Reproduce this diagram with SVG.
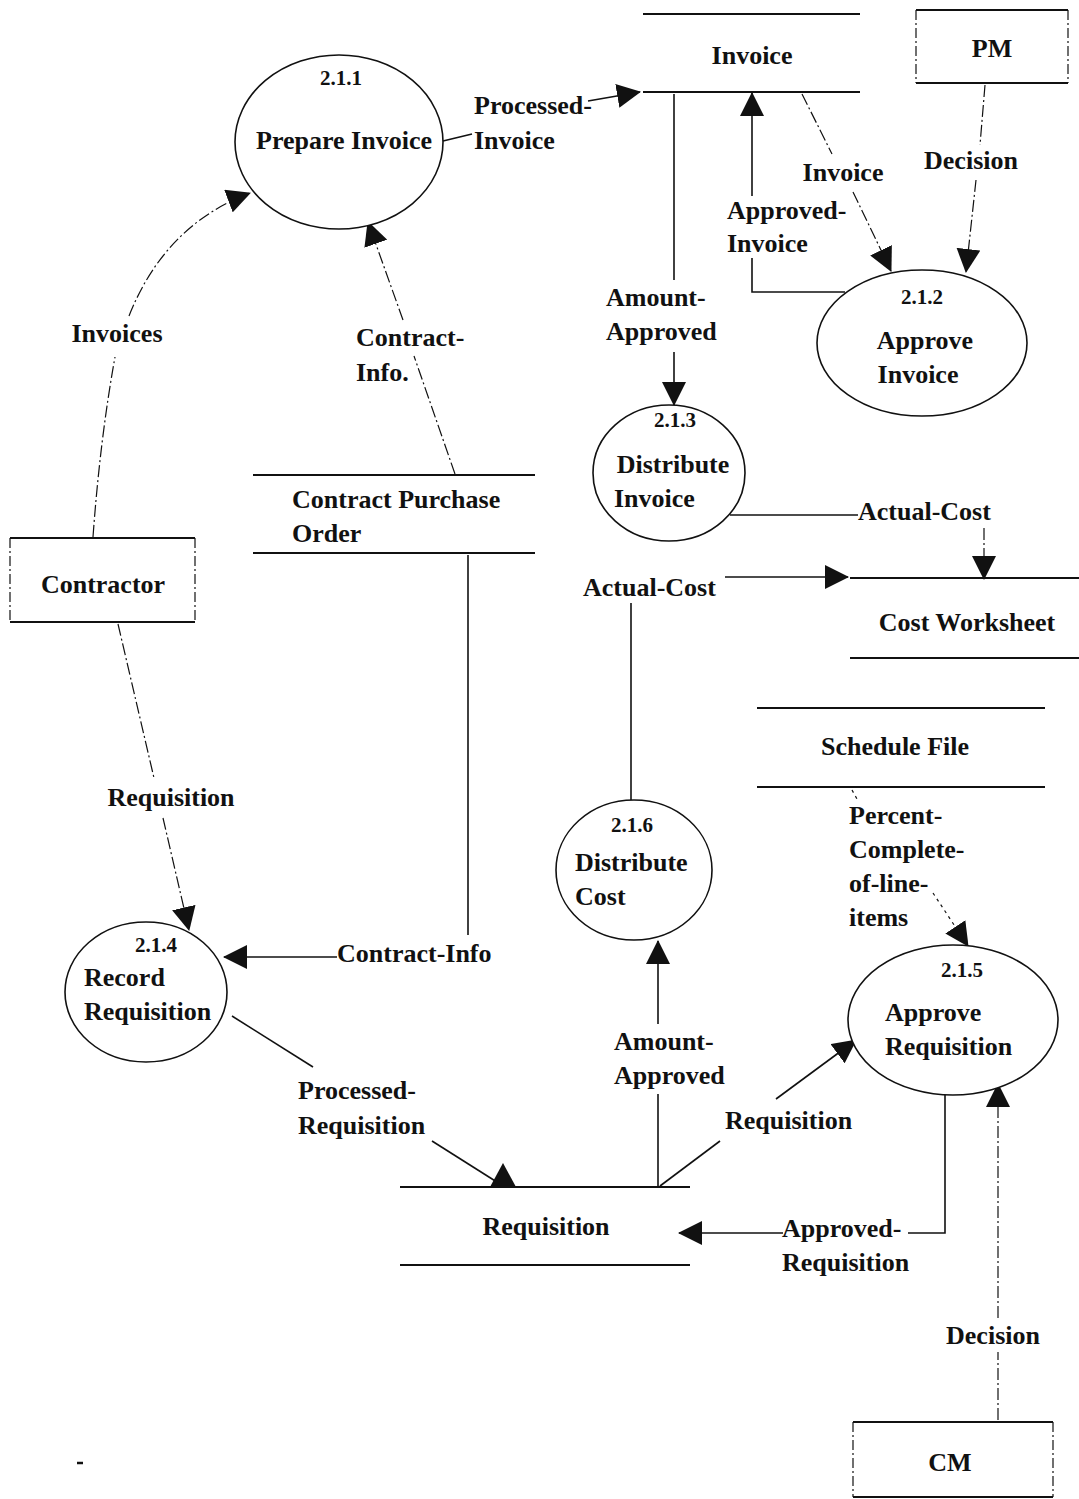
<svg xmlns="http://www.w3.org/2000/svg" width="1079" height="1499" viewBox="0 0 1079 1499">
  <style>
    text { font-family: "Liberation Serif", "DejaVu Serif", serif; font-weight: bold; font-size: 26px; fill: #111; }
    .num { font-size: 21px; }
    .mid { text-anchor: middle; }
    .proc { fill: #fff; stroke: #111; stroke-width: 1.6; }
    .store { stroke: #111; stroke-width: 2; }
    .ext-h { stroke: #111; stroke-width: 2; }
    .ext-v { stroke: #111; stroke-width: 1.2; stroke-dasharray: 10 3 2 3; }
    .flow { fill: none; stroke: #111; stroke-width: 1.6; marker-end: url(#arrow); }
    .flow-d { fill: none; stroke: #111; stroke-width: 1.2; stroke-dasharray: 12 3 2 3; marker-end: url(#arrow); }
    .flow-p { fill: none; stroke: #111; stroke-width: 1.2; stroke-dasharray: 3 4; marker-end: url(#arrow); }
    .plain { fill: none; stroke: #111; stroke-width: 1.6; }
    .plain-d { fill: none; stroke: #111; stroke-width: 1.2; stroke-dasharray: 12 3 2 3; }
    .plain-p { fill: none; stroke: #111; stroke-width: 1.2; stroke-dasharray: 3 4; }
  </style>
  <defs>
    <marker id="arrow" markerUnits="userSpaceOnUse" viewBox="0 0 24 24" markerWidth="24" markerHeight="24" refX="23" refY="12" orient="auto">
      <path d="M0,0 L24,12 L0,24 z" fill="#111"/>
    </marker>
  </defs>
  <rect width="1079" height="1499" fill="#fff"/>

  <!-- data flows; each line is broken where its label sits -->
  <g id="connectors">
    <!-- Invoices: Contractor -> 2.1.1 -->
    <path class="plain-d" d="M 93 537 Q 100 440 115 357"/>
    <path class="flow-d" d="M 129 316 Q 165 225 250 193"/>
    <text x="117" y="342" class="mid">Invoices</text>

    <!-- Contract-Info.: Contract Purchase Order -> 2.1.1 -->
    <path class="plain-d" d="M 455 474 L 414 356"/>
    <path class="flow-d" d="M 403 320 L 368 222"/>
    <text x="356" y="346">Contract-</text>
    <text x="356" y="381">Info.</text>

    <!-- Processed-Invoice: 2.1.1 -> Invoice store -->
    <path class="plain" d="M 443 141 L 472 134"/>
    <path class="flow" d="M 588 101 L 640 92"/>
    <text x="474" y="114">Processed-</text>
    <text x="474" y="149">Invoice</text>

    <!-- Invoice: Invoice store -> 2.1.2 -->
    <path class="plain-d" d="M 802 94 L 832 154"/>
    <path class="flow-d" d="M 853 192 L 891 271"/>
    <text x="843" y="181" class="mid">Invoice</text>

    <!-- Approved-Invoice: 2.1.2 -> Invoice store -->
    <path class="plain" d="M 845 292 L 752 292 L 752 258"/>
    <path class="flow" d="M 752 196 L 752 93"/>
    <text x="727" y="219">Approved-</text>
    <text x="727" y="252">Invoice</text>

    <!-- Decision: PM -> 2.1.2 -->
    <path class="plain-d" d="M 985 85 L 980 145"/>
    <path class="flow-d" d="M 976 180 L 966 272"/>
    <text x="971" y="169" class="mid">Decision</text>

    <!-- Amount-Approved: Invoice store -> 2.1.3 -->
    <path class="plain" d="M 674 94 L 674 280"/>
    <path class="flow" d="M 674 352 L 674 405"/>
    <text x="606" y="306">Amount-</text>
    <text x="606" y="340">Approved</text>

    <!-- Actual-Cost: 2.1.3 -> Cost Worksheet -->
    <path class="plain" d="M 730 515 L 858 515"/>
    <path class="flow-d" d="M 984 528 L 984 579"/>
    <text x="858" y="520">Actual-Cost</text>

    <!-- Actual-Cost: 2.1.6 -> Cost Worksheet -->
    <path class="plain" d="M 631 800 L 631 603"/>
    <path class="flow" d="M 725 577 L 848 577"/>
    <text x="583" y="596">Actual-Cost</text>

    <!-- Requisition: Contractor -> 2.1.4 -->
    <path class="plain-d" d="M 118 624 L 154 778"/>
    <path class="flow-d" d="M 163 818 L 189 930"/>
    <text x="171" y="806" class="mid">Requisition</text>

    <!-- Contract-Info: Contract Purchase Order -> 2.1.4 -->
    <path class="plain" d="M 468 555 L 468 935"/>
    <path class="flow" d="M 337 957 L 224 957"/>
    <text x="337" y="962">Contract-Info</text>

    <!-- Processed-Requisition: 2.1.4 -> Requisition store -->
    <path class="plain" d="M 232 1016 L 313 1067"/>
    <path class="plain" d="M 432 1141 L 500 1184"/>
    <polygon points="490,1187 503,1163 516,1187" fill="#111"/>
    <text x="298" y="1099">Processed-</text>
    <text x="298" y="1134">Requisition</text>

    <!-- Amount-Approved: Requisition store -> 2.1.6 -->
    <path class="plain" d="M 658 1186 L 658 1094"/>
    <path class="flow" d="M 658 1024 L 658 941"/>
    <text x="614" y="1050">Amount-</text>
    <text x="614" y="1084">Approved</text>

    <!-- Requisition: Requisition store -> 2.1.5 -->
    <path class="plain" d="M 660 1186 L 720 1141"/>
    <path class="flow" d="M 776 1099 L 856 1040"/>
    <text x="725" y="1129">Requisition</text>

    <!-- Percent-Complete-of-line-items: Schedule File -> 2.1.5 -->
    <path class="plain-p" d="M 852 790 L 857 799"/>
    <path class="flow-p" d="M 933 893 L 968 946"/>
    <text x="849" y="824">Percent-</text>
    <text x="849" y="858">Complete-</text>
    <text x="849" y="892">of-line-</text>
    <text x="849" y="926">items</text>

    <!-- Approved-Requisition: 2.1.5 -> Requisition store -->
    <path class="plain" d="M 945 1090 L 945 1233 L 908 1233"/>
    <path class="flow" d="M 783 1233 L 679 1233"/>
    <text x="782" y="1237">Approved-</text>
    <text x="782" y="1271">Requisition</text>

    <!-- Decision: CM -> 2.1.5 -->
    <path class="plain-d" d="M 998 1420 L 998 1352"/>
    <path class="flow-d" d="M 998 1318 L 998 1084"/>
    <text x="993" y="1344" class="mid">Decision</text>
  </g>

  <!-- processes -->
  <g id="p211">
    <ellipse class="proc" cx="339" cy="142" rx="104" ry="87"/>
    <text class="num mid" x="341" y="85">2.1.1</text>
    <text x="344" y="149" class="mid">Prepare Invoice</text>
  </g>
  <g id="p212">
    <ellipse class="proc" cx="922" cy="343" rx="105" ry="73"/>
    <text class="num mid" x="922" y="304">2.1.2</text>
    <text x="925" y="349" class="mid">Approve</text>
    <text x="918" y="383" class="mid">Invoice</text>
  </g>
  <g id="p213">
    <ellipse class="proc" cx="669" cy="473" rx="76" ry="68"/>
    <text class="num mid" x="675" y="427">2.1.3</text>
    <text x="673" y="473" class="mid">Distribute</text>
    <text x="614" y="507">Invoice</text>
  </g>
  <g id="p214">
    <ellipse class="proc" cx="146" cy="992" rx="81" ry="70"/>
    <text class="num mid" x="156" y="952">2.1.4</text>
    <text x="84" y="986">Record</text>
    <text x="84" y="1020">Requisition</text>
  </g>
  <g id="p215">
    <ellipse class="proc" cx="953" cy="1020" rx="105" ry="75"/>
    <text class="num mid" x="962" y="977">2.1.5</text>
    <text x="885" y="1021">Approve</text>
    <text x="885" y="1055">Requisition</text>
  </g>
  <g id="p216">
    <ellipse class="proc" cx="634" cy="870" rx="78" ry="70"/>
    <text class="num mid" x="632" y="832">2.1.6</text>
    <text x="575" y="871">Distribute</text>
    <text x="575" y="905">Cost</text>
  </g>

  <!-- data stores -->
  <g id="s-invoice">
    <line class="store" x1="643" y1="14" x2="860" y2="14"/>
    <line class="store" x1="643" y1="92" x2="860" y2="92"/>
    <text x="752" y="64" class="mid">Invoice</text>
  </g>
  <g id="s-cpo">
    <line class="store" x1="253" y1="475" x2="535" y2="475"/>
    <line class="store" x1="253" y1="553" x2="535" y2="553"/>
    <text x="292" y="508">Contract Purchase</text>
    <text x="292" y="542">Order</text>
  </g>
  <g id="s-cost">
    <line class="store" x1="850" y1="578" x2="1079" y2="578"/>
    <line class="store" x1="850" y1="658" x2="1079" y2="658"/>
    <text x="967" y="631" class="mid">Cost Worksheet</text>
  </g>
  <g id="s-schedule">
    <line class="store" x1="757" y1="708" x2="1045" y2="708"/>
    <line class="store" x1="757" y1="787" x2="1045" y2="787"/>
    <text x="895" y="755" class="mid">Schedule File</text>
  </g>
  <g id="s-requisition">
    <line class="store" x1="400" y1="1187" x2="690" y2="1187"/>
    <line class="store" x1="400" y1="1265" x2="690" y2="1265"/>
    <text x="546" y="1235" class="mid">Requisition</text>
  </g>

  <!-- external entities -->
  <g id="e-pm">
    <line class="ext-h" x1="916" y1="10" x2="1068" y2="10"/>
    <line class="ext-h" x1="916" y1="83" x2="1068" y2="83"/>
    <line class="ext-v" x1="916" y1="10" x2="916" y2="83"/>
    <line class="ext-v" x1="1068" y1="10" x2="1068" y2="83"/>
    <text x="992" y="57" class="mid">PM</text>
  </g>
  <g id="e-contractor">
    <line class="ext-h" x1="10" y1="538" x2="195" y2="538"/>
    <line class="ext-h" x1="10" y1="622" x2="195" y2="622"/>
    <line class="ext-v" x1="10" y1="538" x2="10" y2="622"/>
    <line class="ext-v" x1="195" y1="538" x2="195" y2="622"/>
    <text x="103" y="593" class="mid">Contractor</text>
  </g>
  <g id="e-cm">
    <line class="ext-h" x1="853" y1="1422" x2="1053" y2="1422"/>
    <line class="ext-h" x1="853" y1="1497" x2="1053" y2="1497"/>
    <line class="ext-v" x1="853" y1="1422" x2="853" y2="1497"/>
    <line class="ext-v" x1="1053" y1="1422" x2="1053" y2="1497"/>
    <text x="950" y="1471" class="mid">CM</text>
  </g>

  <!-- small mark at lower left -->
  <line x1="77" y1="1463" x2="83" y2="1463" stroke="#111" stroke-width="2.5"/>
</svg>
